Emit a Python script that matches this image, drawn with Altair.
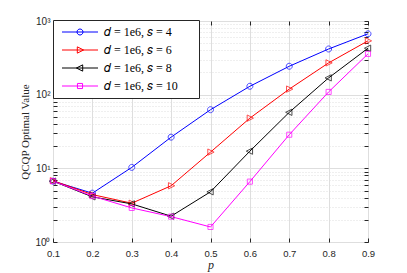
import altair as alt
import pandas as pd

# ---- data ----
p_values = [0.1, 0.2, 0.3, 0.4, 0.5, 0.6, 0.7, 0.8, 0.9]
s4_values = [6.7, 4.6, 10.3, 26.5, 62.5, 130, 243, 417, 670]
s6_values = [6.8, 4.4, 3.36, 5.8, 16.6, 48, 119, 270, 538]
s8_values = [6.7, 4.1, 3.29, 2.24, 4.8, 17.1, 57.6, 169, 427]
s10_values = [6.7, 4.2, 2.9, 2.21, 1.6, 6.6, 28.6, 109, 358]

series_labels = ["𝑑 = 1e6, 𝑠 = 4", "𝑑 = 1e6, 𝑠 = 6", "𝑑 = 1e6, 𝑠 = 8", "𝑑 = 1e6, 𝑠 = 10"]
series_colors = ["#0000ff", "#ff0000", "#000000", "#ff00ff"]

x_ticks = [0.1, 0.2, 0.3, 0.4, 0.5, 0.6, 0.7, 0.8, 0.9]
y_ticks = [1, 2, 3, 4, 5, 6, 7, 8, 9,
           10, 20, 30, 40, 50, 60, 70, 80, 90,
           100, 200, 300, 400, 500, 600, 700, 800, 900, 1000]

# marker shapes (unit space) and legend symbols (line + marker)
marker_paths = [
    "M1,0 A1,1 0 1,1 -1,0 A1,1 0 1,1 1,0 Z",
    "M-0.9,-1.05 L1.2,0 L-0.9,1.05 Z",
    "M0.9,-1.05 L-1.2,0 L0.9,1.05 Z",
    "M-0.85,-0.85 H0.85 V0.85 H-0.85 Z",
]
legend_paths = ["M-6,0 H6 " + m for m in marker_paths]

rows = []
for name, vals in zip(series_labels, [s4_values, s6_values, s8_values, s10_values]):
    for p, v in zip(p_values, vals):
        rows.append({"p": p, "value": v, "series": name})
df = pd.DataFrame(rows)

x_scale = alt.Scale(domain=[0.1, 0.9], nice=False, zero=False)
y_scale = alt.Scale(type="log", domain=[1, 1000], nice=False)
color_scale = alt.Scale(domain=series_labels, range=series_colors)

major_test = "abs(log(datum.value)/LN10 - round(log(datum.value)/LN10)) < 0.001"
y_label_expr = ("datum.value == 1 ? '10⁰' : datum.value == 10 ? '10¹' : "
                "datum.value == 100 ? '10²' : datum.value == 1000 ? '10³' : ''")

AX = "#262626"
GRID = "#dedede"
SERIF = "Liberation Serif, Times New Roman, serif"

x_axis_bottom = alt.Axis(
    values=x_ticks, format=".1f", orient="bottom", grid=True, gridColor=GRID,
    domain=False, tickSize=4, offset=-4, tickColor=AX, labelFlush=False,
    labelFont="Liberation Sans", labelFontSize=9.5, labelColor=AX, labelPadding=6,
    title="p", titleFont=SERIF, titleFontStyle="italic",
    titleFontWeight="normal", titleFontSize=12, titleColor=AX, titlePadding=2,
)
y_axis_left = alt.Axis(
    values=y_ticks, orient="left", labelExpr=y_label_expr, labelOverlap=False,
    grid=True, gridColor=GRID,
    gridDash={"condition": {"test": major_test, "value": []}, "value": [1, 2]},
    domain=False, tickSize=4, offset=-4, tickColor=AX,
    labelFont="Liberation Sans", labelFontSize=10, labelColor=AX, labelPadding=3,
    title="QCQP Optimal Value", titleFont=SERIF,
    titleFontWeight="normal", titleFontSize=11, titleColor=AX, titlePadding=4,
)
x_axis_top = alt.Axis(values=x_ticks, orient="top", labels=False, title=None,
                      grid=False, domain=False, tickSize=4, offset=-4, tickColor=AX)
y_axis_right = alt.Axis(values=y_ticks, orient="right", labels=False, title=None,
                        grid=False, domain=False, tickSize=4, offset=-4, tickColor=AX)

base = alt.Chart(df)

lines = base.mark_line(strokeWidth=1).encode(
    x=alt.X("p:Q", scale=x_scale, axis=x_axis_bottom),
    y=alt.Y("value:Q", scale=y_scale, axis=y_axis_left),
    color=alt.Color("series:N", scale=color_scale, legend=None),
    detail="series:N",
)

points = base.mark_point(filled=False, size=36, strokeWidth=1).encode(
    x=alt.X("p:Q", scale=x_scale, axis=x_axis_top),
    y=alt.Y("value:Q", scale=y_scale, axis=y_axis_right),
    color=alt.Color("series:N", scale=color_scale, legend=None),
    shape=alt.Shape("series:N", scale=alt.Scale(domain=series_labels, range=marker_paths),
                    legend=None),
)

legend_cfg = dict(
    title=None, orient="none", legendX=0, legendY=-1,
    fillColor="white", strokeColor=AX, padding=6,
    symbolSize=36, symbolStrokeWidth=1, symbolFillColor="transparent",
    symbolOpacity=1, symbolOffset=15, labelOffset=18,
    labelFont=SERIF, labelFontWeight="normal", labelFontSize=12, labelColor="#000000",
    labelExpr="datum.label + '\u2002\u2800'",
    rowPadding=6, labelLimit=300,
)

legend_layer = base.mark_point(filled=False, size=36, opacity=0).encode(
    x=alt.X("p:Q", scale=x_scale, axis=None),
    y=alt.Y("value:Q", scale=y_scale, axis=None),
    stroke=alt.Stroke("series:N", scale=alt.Scale(domain=series_labels, range=series_colors),
                      legend=alt.Legend(**legend_cfg)),
    shape=alt.Shape("series:N", scale=alt.Scale(domain=series_labels, range=legend_paths),
                    legend=alt.Legend(**legend_cfg)),
)

chart = (
    alt.layer(lines, points, legend_layer)
    .resolve_axis(x="independent", y="independent")
    .resolve_scale(shape="independent", stroke="independent")
    .properties(width=315, height=221, autosize="none",
                padding={"left": 45, "top": 13, "right": 31, "bottom": 30},
                background="white")
    .configure_view(stroke=AX, strokeWidth=1)
    .configure_legend(labelFont=SERIF, labelFontSize=12)
)

chart.save("out.html", embed_options={"renderer": "svg", "actions": False})
